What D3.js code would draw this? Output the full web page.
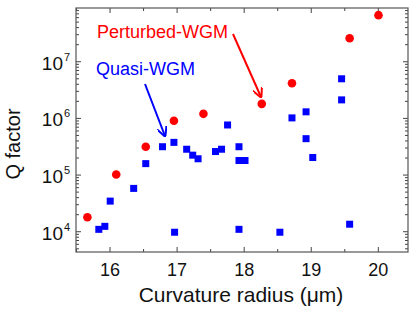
<!DOCTYPE html>
<html>
<head>
<meta charset="utf-8">
<script src="https://cdn.jsdelivr.net/npm/d3@7"></script>
<style>
body { margin: 0; background: #fff; }
text { font-family: "Liberation Sans", Arial, sans-serif; }
</style>
</head>
<body>
<script>
// Perturbed-WGM (red circles)
var pertRadius = [15.67, 16.1, 16.54, 16.96, 17.4, 18.27, 18.72, 19.58, 20.01];
var pertQ = [1.77e4, 1.0e5, 3.1e5, 8.9e5, 1.18e6, 1.77e6, 4.1e6, 2.55e7, 6.5e7];

// Quasi-WGM (blue squares)
var quasiRadius = [15.84, 15.93, 16.01, 16.36, 16.54, 16.97, 16.79, 16.96, 17.15, 17.24, 17.32,
	17.58, 17.67, 17.76, 17.93, 17.93, 18.02, 18.72, 18.93, 18.93, 19.03, 19.46, 19.46,
	17.93, 18.54, 19.58];
var quasiQ = [1.08e4, 1.22e4, 3.4e4, 5.7e4, 1.56e5, 9.6e3, 3.1e5, 3.7e5, 2.8e5, 2.2e5, 1.9e5,
	2.55e5, 2.8e5, 7.5e5, 3.1e5, 1.77e5, 1.77e5, 1.0e6, 1.28e6, 4.3e5, 2.0e5, 4.9e6, 2.08e6,
	1.08e4, 9.6e3, 1.33e4];

var xTicks = [16, 17, 18, 19, 20];
var yTicks = [1e4, 1e5, 1e6, 1e7];

var width = 415, height = 311;
var margin = {top: 8, right: 7, bottom: 59, left: 76};
var w = width - margin.left - margin.right;
var h = height - margin.top - margin.bottom;

var svg = d3.select("body").append("svg")
	.attr("width", width)
	.attr("height", height);

var g = svg.append("g")
	.attr("transform", "translate(" + margin.left + "," + margin.top + ")");

var x = d3.scaleLinear().domain([15.5, 20.45]).range([0, w]);
var y = d3.scaleLog().domain([4.3e3, 8.7e7]).range([h, 0]);

// minor ticks
var xMinor = d3.range(15.5, 20.45, 0.5).filter(function(d) { return xTicks.indexOf(d) < 0; });
var yMinor = [];
[1e3, 1e4, 1e5, 1e6, 1e7].forEach(function(p) {
	for (var k = 2; k <= 9; k++) {
		var v = p * k;
		if (v > y.domain()[0] && v < y.domain()[1]) yMinor.push(v);
	}
});

function axisLines(sel, axis) {
	sel.call(axis);
	sel.select(".domain").remove();
	sel.selectAll("line").attr("stroke", "#444");
}

// bottom (with labels)
var xb = g.append("g").attr("transform", "translate(0," + h + ")");
axisLines(xb, d3.axisBottom(x).tickValues(xTicks).tickSizeInner(-5).tickSizeOuter(0).tickPadding(11).tickFormat(d3.format("d")));
xb.selectAll("text").attr("font-size", 18).attr("fill", "#111");
axisLines(g.append("g").attr("transform", "translate(0," + h + ")"),
	d3.axisBottom(x).tickValues(xMinor).tickSize(-3).tickFormat(""));
// top
axisLines(g.append("g"), d3.axisTop(x).tickValues(xTicks).tickSize(-5).tickFormat(""));
axisLines(g.append("g"), d3.axisTop(x).tickValues(xMinor).tickSize(-3).tickFormat(""));
// left
var yl = g.append("g");
axisLines(yl, d3.axisLeft(y).tickValues(yTicks).tickSize(-5).tickFormat(""));
yl.selectAll(".tick").append("text")
	.attr("x", -13)
	.attr("y", 8)
	.attr("text-anchor", "end")
	.attr("font-size", 19)
	.attr("fill", "#111")
	.text("10");
yl.selectAll(".tick").append("text")
	.attr("x", -6)
	.attr("y", -1)
	.attr("text-anchor", "end")
	.attr("font-size", 11)
	.attr("fill", "#111")
	.text(function(d) { return Math.round(Math.log10(d)); });
axisLines(g.append("g"), d3.axisLeft(y).tickValues(yMinor).tickSize(-3).tickFormat(""));
// right
axisLines(g.append("g").attr("transform", "translate(" + w + ",0)"),
	d3.axisRight(y).tickValues(yTicks).tickSize(-5).tickFormat(""));
axisLines(g.append("g").attr("transform", "translate(" + w + ",0)"),
	d3.axisRight(y).tickValues(yMinor).tickSize(-3).tickFormat(""));

// frame
g.append("rect")
	.attr("width", w).attr("height", h)
	.attr("fill", "none").attr("stroke", "#555").attr("stroke-width", 1.2);

// points
var quasi = quasiRadius.map(function(r, i) { return {r: r, q: quasiQ[i]}; });
var pert = pertRadius.map(function(r, i) { return {r: r, q: pertQ[i]}; });

g.selectAll(".sq").data(quasi).enter().append("rect")
	.attr("class", "sq")
	.attr("x", function(d) { return x(d.r) - 3.5; })
	.attr("y", function(d) { return y(d.q) - 3.5; })
	.attr("width", 7).attr("height", 7)
	.attr("fill", "#0000ff");

g.selectAll(".dot").data(pert).enter().append("circle")
	.attr("class", "dot")
	.attr("cx", function(d) { return x(d.r); })
	.attr("cy", function(d) { return y(d.q); })
	.attr("r", 4.3)
	.attr("fill", "#ff0000");

// annotations
var defs = svg.append("defs");
[["ar", "#ff0000"], ["ab", "#0000ff"]].forEach(function(m) {
	defs.append("marker").attr("id", m[0])
		.attr("viewBox", "0 0 10 10").attr("refX", 9).attr("refY", 5)
		.attr("markerWidth", 5).attr("markerHeight", 5).attr("orient", "auto")
		.append("path").attr("d", "M0,0 L10,5 L0,10").attr("fill", "none")
		.attr("stroke", m[1]).attr("stroke-width", 2);
});

svg.append("text").attr("x", 97).attr("y", 38)
	.attr("font-size", 18).attr("fill", "#ff0000").text("Perturbed-WGM");
svg.append("line").attr("x1", 233).attr("y1", 34).attr("x2", 261).attr("y2", 97)
	.attr("stroke", "#ff0000").attr("stroke-width", 2).attr("marker-end", "url(#ar)");

svg.append("text").attr("x", 96).attr("y", 75)
	.attr("font-size", 18).attr("fill", "#0000ff").text("Quasi-WGM");
svg.append("line").attr("x1", 145).attr("y1", 84).attr("x2", 165).attr("y2", 136)
	.attr("stroke", "#0000ff").attr("stroke-width", 2).attr("marker-end", "url(#ab)");

// axis titles
svg.append("text")
	.attr("transform", "translate(20,144) rotate(-90)")
	.attr("text-anchor", "middle").attr("font-size", 20).attr("fill", "#111")
	.text("Q factor");
svg.append("text")
	.attr("x", 241).attr("y", 302)
	.attr("text-anchor", "middle").attr("font-size", 21).attr("fill", "#111")
	.text("Curvature radius (μm)");
</script>
</body>
</html>
